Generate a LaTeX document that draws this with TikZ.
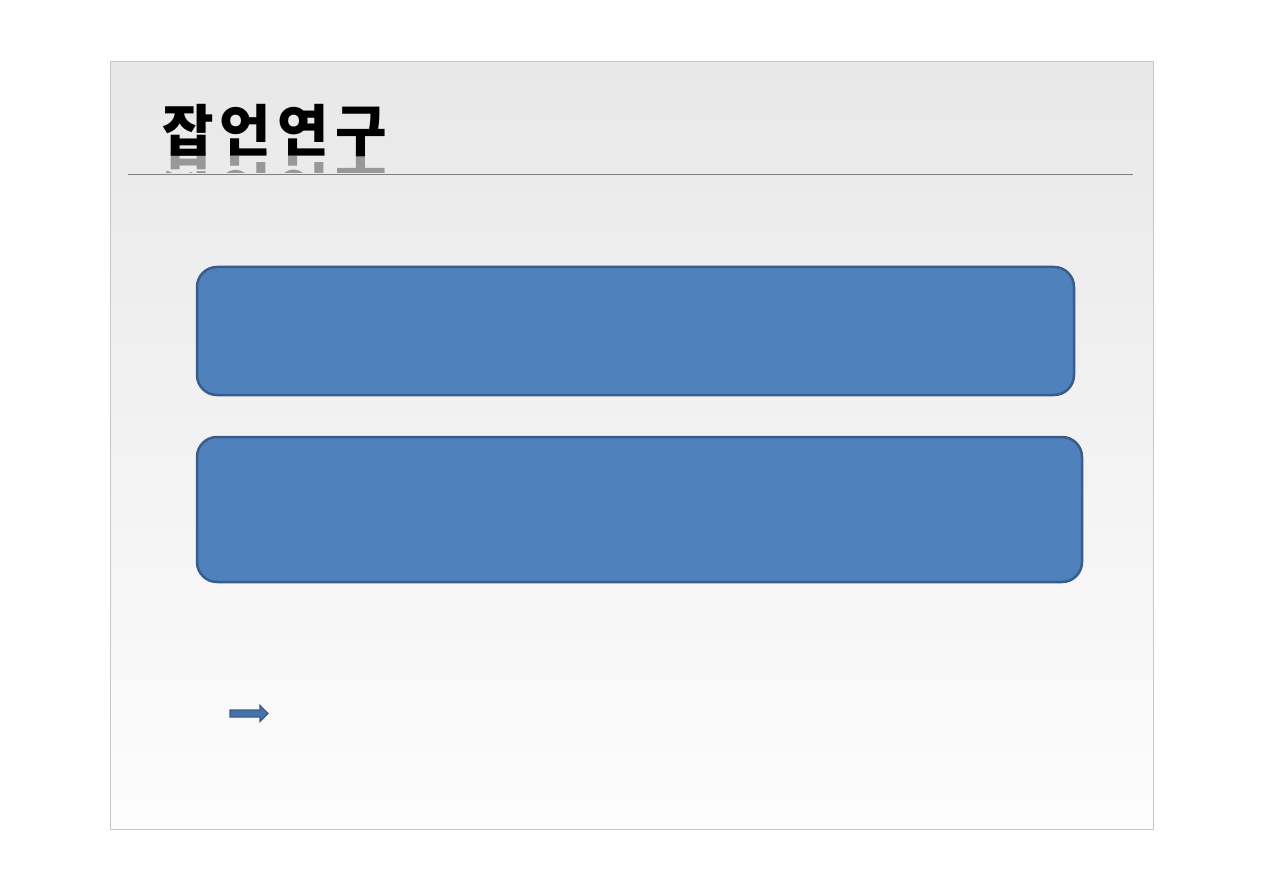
\documentclass[tikz,border=0pt]{standalone}
\usepackage{fontspec}
\usepackage{tikz}
\usetikzlibrary{positioning,fadings,calc}
\newfontfamily\krfont{Noto Sans CJK KR}[LetterSpace=11]
\definecolor{boxblue}{HTML}{4F81BD}
\definecolor{boxedge}{HTML}{385D8A}
\tikzset{sbox/.style={draw=boxedge, fill=boxblue, line width=2.5pt, rounded corners=20pt, inner sep=0pt}}
\tikzset{stitle/.style={inner sep=0pt, anchor=base west, font=\krfont\bfseries\fontsize{56}{60}\selectfont}}

\begin{document}
\begin{tikzpicture}[x=1pt, y=-1pt]
    \useasboundingbox (0,0) rectangle (1263,893);
    \fill[white] (0,0) rectangle (1263,893);
    \shade[top color=black!9, bottom color=black!1, draw=black!22, line width=1pt] (110,62) rectangle (1153,829);

    \node[stitle] (title) at (162,152) {잡언연구};
    \begin{scope}
        \clip (140,153) rectangle (420,173);
        \node[stitle, yscale=-1, opacity=0.35, path fading=north] (mirror) at (162,154) {잡언연구};
    \end{scope}
    \draw[black!50, line width=1pt] (128,175) -- (1133,175);

    \node[sbox, minimum width=877pt, minimum height=128pt] (top) at (635.5,331) {};
    \node[sbox, minimum width=885pt, minimum height=145pt] (bottom) at (639.5,509.5) {};

    \coordinate (tail) at (230,713.5);
    \coordinate (tip) at (268,713.5);
    \draw[boxedge, fill=boxblue!60!boxedge, line width=1.2pt]
        ($(tail)+(0,-3.5)$) -- ($(tip)+(-8,-3.5)$) -- ($(tip)+(-8,-8)$) -- (tip)
        -- ($(tip)+(-8,8)$) -- ($(tip)+(-8,3.5)$) -- ($(tail)+(0,3.5)$) -- cycle;
\end{tikzpicture}
\end{document}
